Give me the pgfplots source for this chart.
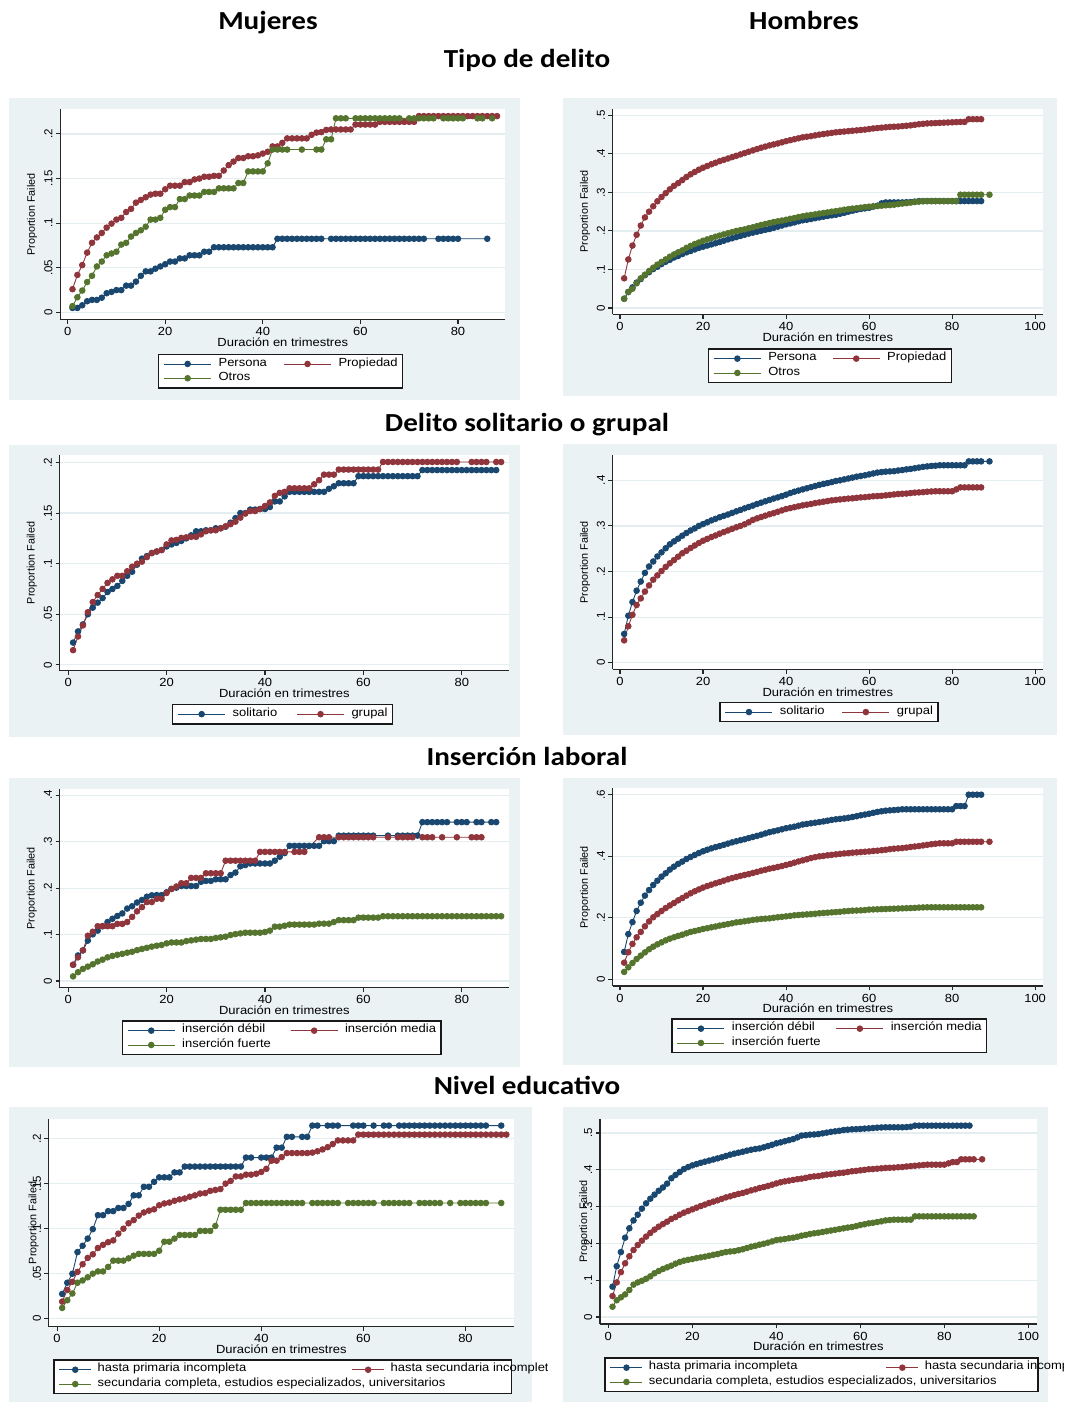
\documentclass[border=0pt]{standalone}
\usepackage{fontspec}
\setmainfont{Liberation Sans}[FakeStretch=1.1]
\newfontfamily\vfont{Liberation Sans}
\newfontfamily\tfont{Carlito}[FakeStretch=1.12]
\usepackage{pgfplots}
\pgfplotsset{compat=1.18}

\definecolor{snavy}{RGB}{26,71,111}
\definecolor{smaroon}{RGB}{144,53,59}
\definecolor{sgreen}{RGB}{85,117,47}
\definecolor{sbg}{RGB}{234,242,243}
\definecolor{sgrid}{RGB}{228,237,240}

\pgfplotsset{
  st/.style={
    scale only axis, anchor=south west, clip=false,
    axis x line=bottom, axis y line=left,
    axis line style={-, line width=1.1pt, draw=black!85},
    tick align=outside, major tick length=4.3pt,
    tick style={line width=1.1pt, black!85},
    ymajorgrids, grid style={sgrid, line width=1.2pt},
    axis background/.style={fill=white},
    xticklabel style={font=\fontsize{11.8}{12}\selectfont},
    yticklabel style={font=\vfont\fontsize{11.5}{12}\selectfont, rotate=90, anchor=south},
    xlabel={Duración en trimestres},
    ylabel={Proportion Failed},
    xlabel style={font=\fontsize{11.8}{12}\selectfont, at={(axis description cs:0.5,0)}, anchor=center, yshift=-22.5pt},
    ylabel style={font=\vfont\fontsize{10.8}{11}\selectfont, anchor=center},
    legend columns=2,
    legend cell align=left,
    legend style={anchor=north west, at={(axis description cs:0,0)}, draw=black!90, line width=1.4pt,
      fill=white, inner xsep=5pt, inner ysep=2.5pt, font=\fontsize{11.8}{12}\selectfont,
      nodes={inner sep=0pt, text height=9.3pt, text depth=5pt}, column sep=0pt, row sep=0pt},
    every axis plot/.append style={line width=0.9pt, mark=*, mark size=2.8pt},
  },
  legA/.style={legend image code/.code={
    \draw[mark repeat=2,mark phase=2,##1] plot coordinates {(0pt,0pt) (23.5pt,0pt) (47pt,0pt)};
    \path (54pt,0pt);}},
  legB/.style={legend image code/.code={
    \draw[mark repeat=2,mark phase=2,##1] plot coordinates {(0pt,0pt) (16pt,0pt) (32pt,0pt)};
    \path (38pt,0pt);}},
  leftx/.style={xmin=-1.6, xmax=89.6, xtick={0,20,40,60,80}, xticklabels={0,20,40,60,80}},
  rightx/.style={xmin=-1.76, xmax=101.9, xtick={0,20,40,60,80,100}, xticklabels={0,20,40,60,80,100}},
}

\begin{document}
\begin{tikzpicture}
\useasboundingbox (0,0) rectangle (1067pt,-1402pt);
\fill[white] (0,0) rectangle (1067pt,-1402pt);

% panel backgrounds
\fill[sbg] (9pt,-98pt) rectangle (520pt,-400pt);
\fill[sbg] (563pt,-98pt) rectangle (1057pt,-396pt);
\fill[sbg] (9pt,-445pt) rectangle (520pt,-737pt);
\fill[sbg] (563pt,-444pt) rectangle (1057pt,-735pt);
\fill[sbg] (9pt,-778pt) rectangle (520pt,-1067pt);
\fill[sbg] (563pt,-778pt) rectangle (1057pt,-1065pt);
\fill[sbg] (9pt,-1107pt) rectangle (532pt,-1402pt);
\fill[sbg] (563pt,-1107pt) rectangle (1048pt,-1402pt);

% titles
\begin{scope}[every node/.style={anchor=base, font=\tfont\bfseries\fontsize{26}{28}\selectfont}]
\node at (268pt,-30pt) {Mujeres};
\node at (804pt,-30pt) {Hombres};
\node at (527pt,-68pt) {Tipo de delito};
\node at (527pt,-431pt) {Delito solitario o grupal};
\node at (527pt,-765pt) {Inserción laboral};
\node at (527pt,-1094pt) {Nivel educativo};
\end{scope}

% ---------- Tipo de delito, mujeres
\begin{axis}[st, leftx, legA, at={(60.2pt,-319.9pt)}, width=445.1pt, height=210.6pt,
  xmin=-1.52, xmax=89.7, ymin=-0.0084, ymax=0.2276,
  ytick={0,.05,.1,.15,.2}, yticklabels={0,.05,.1,.15,.2},
  ylabel style={at={(axis description cs:-0.063,0.5)}},
  legend style={xshift=97.8pt, yshift=-33.7pt}]
\addplot[snavy] coordinates {(1,.005)(2,.005)(3,.008)(4,.0125)(5,.014)(6,.014)(7,.0165)(8,.0215)(9,.023)(10,.025)
(11,.025)(12,.03)(13,.03)(14,.0345)(15,.041)(16,.046)(17,.046)(18,.049)(19,.0515)(20,.054)
(21,.057)(22,.057)(23,.0605)(24,.0605)(25,.064)(26,.064)(27,.064)(28,.068)(29,.068)(30,.073)
(31,.073)(32,.073)(33,.073)(34,.073)(35,.073)(36,.073)(37,.073)(38,.073)(39,.073)(40,.073)
(41,.073)(42,.073)(43,.0825)(44,.0825)(45,.0825)(46,.0825)(47,.0825)(48,.0825)(49,.0825)(50,.0825)
(51,.0825)(52,.0825)(54,.0825)(55,.0825)(56,.0825)(57,.0825)(58,.0825)(59,.0825)(60,.0825)
(61,.0825)(62,.0825)(63,.0825)(64,.0825)(65,.0825)(66,.0825)(67,.0825)(68,.0825)(69,.0825)(70,.0825)
(71,.0825)(72,.0825)(73,.0825)(76,.0825)(77,.0825)(78,.0825)(79,.0825)(80,.0825)(86,.0825)};
\addlegendentry{\makebox[65pt][l]{Persona}}
\addplot[smaroon] coordinates {(1,.026)(2,.042)(3,.053)(4,.067)(5,.078)(6,.084)(7,.089)(8,.095)(9,.0995)(10,.104)
(11,.106)(12,.1125)(13,.116)(14,.123)(15,.126)(16,.129)(17,.132)(18,.133)(19,.133)(20,.138)
(21,.142)(22,.142)(23,.142)(24,.146)(25,.146)(26,.149)(27,.15)(28,.152)(29,.152)(30,.153)
(31,.153)(32,.159)(33,.165)(34,.169)(35,.173)(36,.173)(37,.175)(38,.175)(39,.176)(40,.178)
(41,.18)(42,.186)(43,.186)(44,.19)(45,.195)(46,.195)(47,.195)(48,.195)(49,.195)(50,.199)
(51,.2015)(52,.202)(53,.2045)(54,.205)(55,.205)(56,.205)(57,.205)(58,.205)(59,.2105)(60,.2105)
(61,.2105)(62,.2105)(63,.2105)(64,.2135)(65,.2135)(66,.2135)(67,.2135)(68,.2135)(69,.2135)(70,.2135)
(71,.2135)(72,.22)(73,.22)(74,.22)(75,.22)(76,.22)(77,.22)(78,.22)(79,.22)(80,.22)
(81,.22)(82,.22)(83,.22)(84,.22)(85,.22)(86,.22)(87,.22)(88,.22)};
\addlegendentry{Propiedad}
\addplot[sgreen] coordinates {(1,.007)(2,.017)(3,.0245)(4,.034)(5,.041)(6,.0515)(7,.057)(8,.064)(9,.066)(10,.068)
(11,.076)(12,.078)(13,.085)(14,.089)(15,.092)(16,.096)(17,.104)(18,.104)(19,.106)(20,.115)
(21,.118)(22,.118)(23,.127)(24,.127)(25,.131)(26,.131)(27,.131)(28,.135)(29,.135)(30,.135)
(31,.139)(32,.139)(33,.139)(34,.139)(35,.145)(36,.145)(37,.158)(38,.158)(39,.158)(40,.158)
(41,.167)(42,.1825)(43,.1825)(44,.1825)(45,.1825)(48,.1825)(51,.1825)(52,.1825)(53,.194)(54,.194)
(55,.2175)(56,.2175)(57,.2175)(59,.2175)(60,.2175)(61,.2175)(62,.2175)(63,.2175)(64,.2175)(65,.2175)
(66,.2175)(67,.2175)(68,.2175)(70,.2175)(71,.2175)(72,.2175)(73,.2175)(74,.2175)(75,.2175)(77,.2175)
(78,.2175)(79,.2175)(80,.2175)(81,.2175)(84,.2175)(85,.2175)(87,.2175)};
\addlegendentry{\makebox[65pt][l]{Otros}}
\end{axis}

% ---------- Tipo de delito, hombres
\begin{axis}[st, rightx, legA, at={(612.7pt,-314.3pt)}, width=430.3pt, height=205.3pt,
  ymin=-0.0164, ymax=0.5165,
  ytick={0,.1,.2,.3,.4,.5}, yticklabels={0,.1,.2,.3,.4,.5},
  ylabel style={at={(axis description cs:-0.064,0.5)}},
  legend style={xshift=95pt, yshift=-34pt}]
\addplot[snavy] coordinates {(1,.024)(2,.0415)(3,.0535)(4,.066)(5,.075)(6,.085)(7,.093)(8,.101)(9,.107)(10,.114)
(11,.12)(12,.125)(13,.131)(14,.135)(15,.14)(16,.1445)(17,.148)(18,.152)(19,.156)(20,.159)
(21,.162)(22,.165)(23,.168)(24,.171)(25,.1745)(26,.178)(27,.181)(28,.184)(29,.187)(30,.19)
(31,.193)(32,.1955)(33,.198)(34,.2005)(35,.203)(36,.205)(37,.208)(38,.211)(39,.214)(40,.217)
(41,.2195)(42,.222)(43,.225)(44,.2275)(45,.229)(46,.231)(47,.233)(48,.235)(49,.237)(50,.239)
(51,.2405)(52,.242)(53,.2445)(54,.247)(55,.25)(56,.2525)(57,.255)(58,.257)(59,.2585)(60,.26)
(61,.263)(62,.2655)(63,.2715)(64,.274)(65,.274)(66,.274)(67,.274)(68,.274)(69,.2745)(70,.275)
(71,.276)(72,.2775)(73,.2775)(74,.2775)(75,.2775)(76,.2775)(77,.2775)(78,.2775)(79,.2775)(80,.2775)
(81,.2775)(82,.2775)(83,.2775)(84,.2775)(85,.2775)(86,.2775)(87,.2775)};
\addlegendentry{\makebox[64pt][l]{Persona}}
\addplot[smaroon] coordinates {(1,.077)(2,.126)(3,.162)(4,.19)(5,.214)(6,.235)(7,.25)(8,.264)(9,.277)(10,.288)
(11,.298)(12,.308)(13,.317)(14,.324)(15,.332)(16,.34)(17,.347)(18,.353)(19,.359)(20,.364)
(21,.3685)(22,.373)(23,.377)(24,.381)(25,.3845)(26,.388)(27,.3915)(28,.395)(29,.3985)(30,.402)
(31,.4055)(32,.409)(33,.4125)(34,.416)(35,.419)(36,.422)(37,.4245)(38,.427)(39,.43)(40,.433)
(41,.4355)(42,.438)(43,.4405)(44,.443)(45,.4445)(46,.446)(47,.448)(48,.45)(49,.4515)(50,.453)
(51,.4545)(52,.456)(53,.457)(54,.458)(55,.459)(56,.46)(57,.461)(58,.462)(59,.463)(60,.4645)
(61,.466)(62,.467)(63,.468)(64,.469)(65,.47)(66,.4705)(67,.471)(68,.472)(69,.473)(70,.474)
(71,.4755)(72,.477)(73,.478)(74,.479)(75,.4795)(76,.48)(77,.4805)(78,.481)(79,.4815)(80,.482)
(81,.4825)(82,.483)(83,.483)(84,.49)(85,.49)(86,.49)(87,.49)};
\addlegendentry{Propiedad}
\addplot[sgreen] coordinates {(1,.024)(2,.0415)(3,.05)(4,.064)(5,.077)(6,.0865)(7,.096)(8,.1045)(9,.1125)(10,.1195)
(11,.126)(12,.133)(13,.139)(14,.1445)(15,.1495)(16,.156)(17,.161)(18,.166)(19,.17)(20,.1745)
(21,.178)(22,.1815)(23,.185)(24,.188)(25,.191)(26,.194)(27,.197)(28,.2)(29,.202)(30,.204)
(31,.207)(32,.2095)(33,.2125)(34,.2155)(35,.218)(36,.2205)(37,.223)(38,.225)(39,.227)(40,.229)
(41,.2315)(42,.2335)(43,.236)(44,.238)(45,.24)(46,.2415)(47,.243)(48,.245)(49,.2465)(50,.248)
(51,.25)(52,.2515)(53,.253)(54,.255)(55,.2565)(56,.258)(57,.259)(58,.2605)(59,.262)(60,.263)
(61,.264)(62,.2645)(63,.2655)(64,.2665)(65,.267)(66,.268)(67,.2695)(68,.271)(69,.272)(70,.2735)
(71,.275)(72,.276)(73,.277)(74,.2775)(75,.2775)(76,.2775)(77,.2775)(78,.2775)(79,.2775)(80,.2775)
(81,.2775)(82,.294)(83,.294)(84,.294)(85,.294)(86,.294)(87,.294)(89,.294)};
\addlegendentry{\makebox[64pt][l]{Otros}}
\end{axis}

% ---------- Delito solitario o grupal, mujeres
\begin{axis}[st, leftx, legA, at={(59.8pt,-670.8pt)}, width=449.2pt, height=215.8pt,
  xmin=-1.7, xmax=89.6, ymin=-0.0059, ymax=0.2074,
  ytick={0,.05,.1,.15,.2}, yticklabels={0,.05,.1,.15,.2},
  ylabel style={at={(axis description cs:-0.062,0.5)}},
  legend style={xshift=112.2pt, yshift=-33pt}]
\addplot[snavy] coordinates {(1,.022)(2,.033)(3,.04)(4,.05)(5,.0565)(6,.0615)(7,.066)(8,.072)(9,.075)(10,.078)
(11,.083)(12,.088)(13,.092)(14,.099)(15,.105)(16,.1075)(17,.1105)(18,.112)(19,.1135)(20,.117)
(21,.119)(22,.1205)(23,.1225)(24,.125)(25,.128)(26,.132)(27,.132)(28,.133)(29,.133)(30,.135)
(31,.135)(32,.1365)(33,.1405)(34,.145)(35,.15)(36,.15)(37,.1535)(38,.1535)(39,.154)(40,.154)
(41,.156)(42,.1615)(43,.1615)(44,.1665)(45,.171)(46,.171)(47,.171)(48,.171)(49,.171)(50,.171)
(51,.171)(52,.171)(53,.174)(54,.1765)(55,.1795)(56,.1795)(57,.1795)(58,.1795)(59,.1865)(60,.1865)
(61,.1865)(62,.1865)(63,.1865)(64,.1865)(65,.1865)(66,.1865)(67,.1865)(68,.1865)(69,.1865)(70,.1865)
(71,.1865)(72,.1925)(73,.1925)(74,.1925)(75,.1925)(76,.1925)(77,.1925)(78,.1925)(79,.1925)(80,.1925)
(81,.1925)(82,.1925)(83,.1925)(84,.1925)(85,.1925)(86,.1925)(87,.1925)};
\addlegendentry{\makebox[64pt][l]{solitario}}
\addplot[smaroon] coordinates {(1,.0145)(2,.028)(3,.039)(4,.052)(5,.062)(6,.069)(7,.075)(8,.081)(9,.0845)(10,.088)
(11,.088)(12,.0925)(13,.097)(14,.1)(15,.102)(16,.1065)(17,.1105)(18,.112)(19,.1135)(20,.119)
(21,.123)(22,.1235)(23,.1255)(24,.126)(25,.1265)(26,.1265)(27,.129)(28,.132)(29,.133)(30,.133)
(31,.135)(32,.137)(33,.139)(34,.1415)(35,.1455)(36,.1495)(37,.152)(38,.152)(39,.154)(40,.157)
(41,.1605)(42,.167)(43,.17)(44,.171)(45,.1745)(46,.1745)(47,.1745)(48,.1745)(49,.1745)(50,.1785)
(51,.1825)(52,.188)(53,.188)(54,.188)(55,.193)(56,.193)(57,.193)(58,.193)(59,.193)(60,.193)
(61,.193)(62,.193)(63,.193)(64,.2005)(65,.2005)(66,.2005)(67,.2005)(68,.2005)(69,.2005)(70,.2005)
(71,.2005)(72,.2005)(73,.2005)(74,.2005)(75,.2005)(76,.2005)(77,.2005)(78,.2005)(79,.2005)(82,.2005)
(83,.2005)(84,.2005)(85,.2005)(87,.2005)(88,.2005)};
\addlegendentry{grupal}
\end{axis}

% ---------- Delito solitario o grupal, hombres
\begin{axis}[st, rightx, legA, at={(612.7pt,-669.3pt)}, width=430.3pt, height=214.3pt,
  ymin=-0.0145, ymax=0.4555,
  ytick={0,.1,.2,.3,.4}, yticklabels={0,.1,.2,.3,.4},
  ylabel style={at={(axis description cs:-0.064,0.5)}},
  legend style={xshift=106.6pt, yshift=-32.4pt}]
\addplot[snavy] coordinates {(1,.063)(2,.103)(3,.133)(4,.158)(5,.178)(6,.197)(7,.211)(8,.222)(9,.233)(10,.242)
(11,.251)(12,.2595)(13,.266)(14,.272)(15,.2785)(16,.2845)(17,.29)(18,.2945)(19,.3)(20,.304)
(21,.308)(22,.312)(23,.3155)(24,.319)(25,.322)(26,.325)(27,.3285)(28,.332)(29,.335)(30,.3385)
(31,.3415)(32,.3445)(33,.348)(34,.351)(35,.354)(36,.357)(37,.36)(38,.3625)(39,.3655)(40,.3685)
(41,.372)(42,.375)(43,.3775)(44,.38)(45,.3825)(46,.385)(47,.3875)(48,.39)(49,.392)(50,.394)
(51,.396)(52,.3985)(53,.4)(54,.402)(55,.404)(56,.406)(57,.408)(58,.4095)(59,.411)(60,.413)
(61,.415)(62,.417)(63,.418)(64,.419)(65,.4195)(66,.42)(67,.4215)(68,.4225)(69,.424)(70,.425)
(71,.4265)(72,.428)(73,.4295)(74,.4305)(75,.4315)(76,.432)(77,.433)(78,.433)(79,.433)(80,.433)
(81,.433)(82,.433)(83,.433)(84,.4415)(85,.4415)(86,.4415)(87,.4415)(89,.4415)};
\addlegendentry{\makebox[62pt][l]{solitario}}
\addplot[smaroon] coordinates {(1,.049)(2,.08)(3,.105)(4,.1265)(5,.141)(6,.156)(7,.1695)(8,.182)(9,.1915)(10,.201)
(11,.21)(12,.218)(13,.225)(14,.2325)(15,.24)(16,.2455)(17,.2515)(18,.257)(19,.2625)(20,.2675)
(21,.2715)(22,.2755)(23,.279)(24,.283)(25,.2865)(26,.29)(27,.2935)(28,.297)(29,.3)(30,.3035)
(31,.308)(32,.313)(33,.3165)(34,.3195)(35,.3225)(36,.3255)(37,.328)(38,.331)(39,.334)(40,.337)
(41,.339)(42,.341)(43,.343)(44,.345)(45,.3465)(46,.348)(47,.35)(48,.3515)(49,.353)(50,.3545)
(51,.356)(52,.357)(53,.358)(54,.359)(55,.36)(56,.3605)(57,.3615)(58,.3625)(59,.363)(60,.364)
(61,.365)(62,.3655)(63,.366)(64,.367)(65,.368)(66,.369)(67,.37)(68,.3705)(69,.371)(70,.372)
(71,.373)(72,.3735)(73,.374)(74,.375)(75,.3755)(76,.376)(77,.376)(78,.376)(79,.376)(80,.376)
(81,.38)(82,.3845)(83,.3845)(84,.3845)(85,.3845)(86,.3845)(87,.3845)};
\addlegendentry{grupal}
\end{axis}

% ---------- Insercion laboral, mujeres
\begin{axis}[st, leftx, legA, at={(59.8pt,-987.7pt)}, width=449.2pt, height=199.2pt,
  xmin=-1.7, xmax=89.6, ymin=-0.0144, ymax=0.4144,
  ytick={0,.1,.2,.3,.4}, yticklabels={0,.1,.2,.3,.4},
  ylabel style={at={(axis description cs:-0.062,0.5)}},
  legend style={xshift=61.8pt, yshift=-32.6pt}]
\addplot[snavy] coordinates {(1,.035)(2,.055)(3,.066)(4,.087)(5,.1005)(6,.1085)(7,.118)(8,.127)(9,.134)(10,.14)
(11,.1455)(12,.156)(13,.161)(14,.169)(15,.1745)(16,.1815)(17,.1845)(18,.185)(19,.185)(20,.191)
(21,.1985)(22,.201)(23,.2045)(24,.2045)(25,.2045)(26,.2045)(27,.2135)(28,.2155)(29,.2155)(30,.219)
(31,.219)(32,.219)(33,.228)(34,.2335)(35,.247)(36,.2495)(37,.253)(38,.253)(39,.253)(40,.253)
(41,.253)(42,.259)(43,.2675)(44,.2755)(45,.291)(46,.291)(47,.291)(48,.291)(49,.291)(50,.291)
(51,.291)(52,.301)(53,.301)(54,.301)(55,.313)(56,.313)(57,.313)(58,.313)(59,.313)(60,.313)
(61,.313)(62,.313)(65,.313)(67,.313)(68,.313)(69,.313)(70,.313)(71,.313)(72,.342)(73,.342)
(74,.342)(75,.342)(76,.342)(77,.342)(79,.342)(80,.342)(81,.342)(83,.342)(84,.342)(86,.342)(87,.342)};
\addlegendentry{\makebox[108pt][l]{inserción débil}}
\addplot[smaroon] coordinates {(1,.035)(2,.051)(3,.066)(4,.0975)(5,.106)(6,.118)(7,.118)(8,.118)(9,.118)(10,.123)
(11,.123)(12,.127)(13,.138)(14,.15)(15,.159)(16,.17)(17,.17)(18,.177)(19,.177)(20,.1895)
(21,.198)(22,.2035)(23,.2105)(24,.2105)(25,.222)(26,.222)(27,.222)(28,.232)(29,.232)(30,.232)
(31,.232)(32,.259)(33,.259)(34,.259)(35,.259)(36,.259)(37,.259)(38,.259)(39,.278)(40,.278)
(41,.278)(42,.278)(43,.278)(44,.278)(46,.278)(47,.278)(48,.278)(51,.3095)(52,.3095)(53,.3095)
(55,.3095)(56,.3095)(57,.3095)(58,.3095)(59,.3095)(60,.3095)(61,.3095)(62,.3095)(65,.3095)(67,.3095)
(68,.3095)(69,.3095)(70,.3095)(72,.3095)(73,.3095)(74,.3095)(76,.3095)(79,.3095)(82,.3095)(83,.3095)(84,.3095)};
\addlegendentry{inserción media}
\addplot[sgreen] coordinates {(1,.01)(2,.019)(3,.026)(4,.031)(5,.036)(6,.042)(7,.046)(8,.051)(9,.054)(10,.0565)
(11,.0585)(12,.061)(13,.063)(14,.0665)(15,.069)(16,.0715)(17,.074)(18,.076)(19,.0775)(20,.081)
(21,.083)(22,.083)(23,.083)(24,.086)(25,.0875)(26,.089)(27,.0905)(28,.0905)(29,.0905)(30,.0925)
(31,.094)(32,.0955)(33,.099)(34,.101)(35,.1025)(36,.104)(37,.104)(38,.104)(39,.104)(40,.1055)
(41,.1085)(42,.117)(43,.117)(44,.119)(45,.1215)(46,.1215)(47,.1215)(48,.1215)(49,.1215)(50,.1215)
(51,.1235)(52,.1235)(53,.1235)(54,.127)(55,.131)(56,.131)(57,.131)(58,.131)(59,.1365)(60,.1365)
(61,.1365)(62,.1365)(63,.1365)(64,.1395)(65,.1395)(66,.1395)(67,.1395)(68,.1395)(69,.1395)(70,.1395)
(71,.1395)(72,.1395)(73,.1395)(74,.1395)(75,.1395)(76,.1395)(77,.1395)(78,.1395)(79,.1395)(80,.1395)
(81,.1395)(82,.1395)(83,.1395)(84,.1395)(85,.1395)(86,.1395)(87,.1395)(88,.1395)};
\addlegendentry{\makebox[108pt][l]{inserción fuerte}}
\end{axis}

% ---------- Insercion laboral, hombres
\begin{axis}[st, rightx, legA, at={(612.7pt,-986pt)}, width=430.3pt, height=197.7pt,
  ymin=-0.0218, ymax=0.6207,
  ytick={0,.2,.4,.6}, yticklabels={0,.2,.4,.6},
  ylabel style={at={(axis description cs:-0.064,0.5)}},
  legend style={xshift=58.6pt, yshift=-32.3pt}]
\addplot[snavy] coordinates {(1,.089)(2,.147)(3,.186)(4,.222)(5,.249)(6,.272)(7,.29)(8,.3065)(9,.3205)(10,.3335)
(11,.3445)(12,.3565)(13,.366)(14,.375)(15,.3825)(16,.391)(17,.3975)(18,.404)(19,.4105)(20,.416)
(21,.421)(22,.4255)(23,.4295)(24,.433)(25,.437)(26,.441)(27,.445)(28,.4485)(29,.452)(30,.455)
(31,.459)(32,.4625)(33,.466)(34,.47)(35,.474)(36,.478)(37,.481)(38,.484)(39,.4875)(40,.491)
(41,.4935)(42,.496)(43,.4995)(44,.503)(45,.505)(46,.507)(47,.509)(48,.511)(49,.513)(50,.5155)
(51,.518)(52,.52)(53,.5215)(54,.523)(55,.525)(56,.5275)(57,.53)(58,.533)(59,.5355)(60,.538)
(61,.541)(62,.544)(63,.546)(64,.548)(65,.549)(66,.55)(67,.551)(68,.5525)(69,.5525)(70,.5525)
(71,.5525)(72,.5525)(73,.5525)(74,.5525)(75,.5525)(76,.5525)(77,.5525)(78,.5525)(79,.5525)(80,.5525)
(81,.563)(82,.563)(83,.563)(84,.6)(85,.6)(86,.6)(87,.6)};
\addlegendentry{\makebox[104pt][l]{inserción débil}}
\addplot[smaroon] coordinates {(1,.054)(2,.088)(3,.115)(4,.1365)(5,.154)(6,.172)(7,.188)(8,.2015)(9,.212)(10,.222)
(11,.2315)(12,.24)(13,.248)(14,.2565)(15,.264)(16,.272)(17,.2795)(18,.286)(19,.292)(20,.298)
(21,.303)(22,.3075)(23,.312)(24,.316)(25,.3205)(26,.325)(27,.329)(28,.3325)(29,.336)(30,.339)
(31,.342)(32,.3455)(33,.349)(34,.353)(35,.356)(36,.3595)(37,.362)(38,.365)(39,.368)(40,.3715)
(41,.375)(42,.379)(43,.383)(44,.3865)(45,.39)(46,.394)(47,.397)(48,.3995)(49,.401)(50,.403)
(51,.4045)(52,.406)(53,.4075)(54,.409)(55,.41)(56,.4115)(57,.4125)(58,.4135)(59,.4145)(60,.4155)
(61,.417)(62,.418)(63,.4195)(64,.421)(65,.423)(66,.4245)(67,.4255)(68,.4265)(69,.428)(70,.43)
(71,.4315)(72,.433)(73,.435)(74,.437)(75,.439)(76,.4405)(77,.442)(78,.442)(79,.442)(80,.442)
(81,.447)(82,.447)(83,.447)(84,.447)(85,.447)(86,.447)(87,.447)(89,.447)};
\addlegendentry{inserción media}
\addplot[sgreen] coordinates {(1,.024)(2,.039)(3,.053)(4,.066)(5,.077)(6,.0875)(7,.0975)(8,.106)(9,.1135)(10,.12)
(11,.1265)(12,.132)(13,.1365)(14,.141)(15,.145)(16,.1495)(17,.154)(18,.157)(19,.16)(20,.1635)
(21,.166)(22,.169)(23,.1715)(24,.1745)(25,.177)(26,.1795)(27,.182)(28,.185)(29,.1865)(30,.1885)
(31,.1905)(32,.193)(33,.1945)(34,.196)(35,.197)(36,.198)(37,.2)(38,.2015)(39,.203)(40,.2045)
(41,.206)(42,.208)(43,.209)(44,.21)(45,.211)(46,.212)(47,.213)(48,.2145)(49,.2155)(50,.2165)
(51,.2175)(52,.2185)(53,.2195)(54,.221)(55,.222)(56,.223)(57,.2235)(58,.224)(59,.225)(60,.2265)
(61,.227)(62,.2275)(63,.228)(64,.2285)(65,.229)(66,.2295)(67,.23)(68,.2305)(69,.231)(70,.2315)
(71,.232)(72,.233)(73,.2335)(74,.234)(75,.234)(76,.234)(77,.234)(78,.234)(79,.234)(80,.234)
(81,.234)(82,.234)(83,.234)(84,.234)(85,.234)(86,.234)(87,.234)};
\addlegendentry{\makebox[104pt][l]{inserción fuerte}}
\end{axis}

% ---------- Nivel educativo, mujeres
\begin{scope}
\clip (0pt,-1100pt) rectangle (547pt,-1402pt);
\begin{axis}[st, leftx, legB, at={(48.7pt,-1326.8pt)}, width=465.3pt, height=207.8pt,
  xmin=-1.64, xmax=89.5, ymin=-0.009, ymax=0.2218,
  ytick={0,.05,.1,.15,.2}, yticklabels={0,.05,.1,.15,.2},
  ylabel style={at={(axis description cs:-0.0325,0.5)}},
  legend style={xshift=4.4pt, yshift=-32.6pt}]
\addplot[snavy] coordinates {(1,.0275)(2,.04)(3,.05)(4,.074)(5,.081)(6,.089)(7,.0995)(8,.115)(9,.115)(10,.1195)
(11,.1195)(12,.123)(13,.123)(14,.1275)(15,.137)(16,.137)(17,.1465)(18,.1465)(19,.152)(20,.157)
(21,.157)(22,.157)(23,.1625)(24,.1625)(25,.169)(26,.169)(27,.169)(28,.169)(29,.169)(30,.169)
(31,.169)(32,.169)(33,.169)(34,.169)(35,.169)(36,.169)(37,.179)(38,.179)(40,.179)(41,.179)
(42,.179)(43,.19)(44,.19)(45,.202)(46,.202)(48,.202)(49,.202)(50,.2145)(51,.2145)(53,.2145)
(54,.2145)(55,.2145)(58,.2145)(59,.2145)(60,.2145)(62,.2145)(64,.2145)(65,.2145)(67,.2145)(68,.2145)
(69,.2145)(70,.2145)(71,.2145)(72,.2145)(73,.2145)(74,.2145)(75,.2145)(76,.2145)(77,.2145)(78,.2145)
(79,.2145)(80,.2145)(81,.2145)(82,.2145)(83,.2145)(84,.2145)(87,.2145)};
\addlegendentry{\makebox[254pt][l]{hasta primaria incompleta}}
\addplot[smaroon] coordinates {(1,.019)(2,.032)(3,.041)(4,.052)(5,.0605)(6,.0675)(7,.0715)(8,.0785)(9,.082)(10,.085)
(11,.087)(12,.0945)(13,.1)(14,.106)(15,.1095)(16,.1145)(17,.118)(18,.12)(19,.1215)(20,.126)
(21,.128)(22,.129)(23,.131)(24,.1325)(25,.1335)(26,.1355)(27,.137)(28,.139)(29,.1395)(30,.142)
(31,.143)(32,.144)(33,.15)(34,.153)(35,.158)(36,.158)(37,.16)(38,.16)(39,.161)(40,.163)
(41,.1665)(42,.1755)(43,.1755)(44,.1795)(45,.184)(46,.184)(47,.184)(48,.184)(49,.184)(50,.1845)
(51,.186)(52,.188)(53,.1905)(54,.194)(55,.198)(56,.198)(57,.198)(58,.198)(59,.2045)(60,.2045)
(61,.2045)(62,.2045)(63,.2045)(64,.2045)(65,.2045)(66,.2045)(67,.2045)(68,.2045)(69,.2045)(70,.2045)
(71,.2045)(72,.2045)(73,.2045)(74,.2045)(75,.2045)(76,.2045)(77,.2045)(78,.2045)(79,.2045)(80,.2045)
(81,.2045)(82,.2045)(83,.2045)(84,.2045)(85,.2045)(86,.2045)(87,.2045)(88,.2045)};
\addlegendentry{\makebox[116pt][l]{hasta secundaria incompleta}}
\addplot[sgreen] coordinates {(1,.012)(2,.0205)(3,.028)(4,.04)(5,.0425)(6,.046)(7,.05)(8,.0525)(9,.0525)(10,.0575)
(11,.0645)(12,.0645)(13,.0645)(14,.067)(15,.07)(16,.072)(17,.072)(18,.072)(19,.072)(20,.0755)
(21,.0855)(22,.0855)(23,.089)(24,.093)(25,.093)(26,.093)(27,.093)(28,.0975)(29,.0975)(30,.0975)
(31,.103)(32,.121)(33,.121)(34,.121)(35,.121)(36,.121)(37,.1285)(38,.1285)(39,.1285)(40,.1285)
(41,.1285)(42,.1285)(43,.1285)(44,.1285)(45,.1285)(46,.1285)(47,.1285)(48,.1285)(50,.1285)(51,.1285)
(52,.1285)(53,.1285)(54,.1285)(55,.1285)(57,.1285)(58,.1285)(59,.1285)(60,.1285)(61,.1285)(62,.1285)
(64,.1285)(65,.1285)(66,.1285)(67,.1285)(68,.1285)(69,.1285)(71,.1285)(72,.1285)(73,.1285)(74,.1285)
(75,.1285)(77,.1285)(79,.1285)(80,.1285)(81,.1285)(82,.1285)(83,.1285)(84,.1285)(87,.1285)};
\addlegendentry{\makebox[254pt][l]{secundaria completa, estudios especializados, universitarios}}
\end{axis}
\end{scope}

% ---------- Nivel educativo, hombres
\begin{scope}
\clip (555pt,-1100pt) rectangle (1063pt,-1402pt);
\begin{axis}[st, legB, at={(600pt,-1324pt)}, width=436.7pt, height=205pt,
  xmin=-1.98, xmax=102, xtick={0,20,40,60,80,100}, xticklabels={0,20,40,60,80,100},
  ymin=-0.019, ymax=0.538,
  ytick={0,.1,.2,.3,.4,.5}, yticklabels={0,.1,.2,.3,.4,.5},
  ylabel style={at={(axis description cs:-0.036,0.5)}},
  legend style={xshift=4.3pt, yshift=-33.3pt}]
\addplot[snavy] coordinates {(1,.0825)(2,.138)(3,.1765)(4,.2155)(5,.241)(6,.2625)(7,.278)(8,.2945)(9,.309)(10,.3215)
(11,.3325)(12,.343)(13,.352)(14,.3625)(15,.377)(16,.386)(17,.394)(18,.402)(19,.4075)(20,.412)
(21,.4155)(22,.419)(23,.422)(24,.425)(25,.428)(26,.431)(27,.434)(28,.4375)(29,.441)(30,.444)
(31,.4465)(32,.449)(33,.452)(34,.4545)(35,.4565)(36,.458)(37,.461)(38,.4645)(39,.468)(40,.472)
(41,.4745)(42,.4775)(43,.4805)(44,.4835)(45,.488)(46,.493)(47,.494)(48,.4955)(49,.496)(50,.497)
(51,.499)(52,.501)(53,.503)(54,.5045)(55,.506)(56,.508)(57,.509)(58,.51)(59,.5105)(60,.511)
(61,.512)(62,.5125)(63,.5135)(64,.5145)(65,.515)(66,.5155)(67,.5155)(68,.5155)(69,.5155)(70,.5155)
(71,.516)(72,.517)(73,.52)(74,.52)(75,.52)(76,.52)(77,.52)(78,.52)(79,.52)(80,.52)
(81,.52)(82,.52)(83,.52)(84,.52)(85,.52)(86,.52)};
\addlegendentry{\makebox[237pt][l]{hasta primaria incompleta}}
\addplot[smaroon] coordinates {(1,.057)(2,.094)(3,.122)(4,.146)(5,.165)(6,.182)(7,.1955)(8,.2075)(9,.2185)(10,.2285)
(11,.2375)(12,.2455)(13,.2525)(14,.259)(15,.2665)(16,.2715)(17,.278)(18,.2835)(19,.288)(20,.2925)
(21,.297)(22,.3015)(23,.3055)(24,.31)(25,.3135)(26,.317)(27,.321)(28,.325)(29,.328)(30,.3315)
(31,.3345)(32,.337)(33,.3405)(34,.344)(35,.347)(36,.3505)(37,.353)(38,.356)(39,.3595)(40,.363)
(41,.366)(42,.3685)(43,.3705)(44,.3725)(45,.3745)(46,.376)(47,.378)(48,.3805)(49,.382)(50,.383)
(51,.385)(52,.387)(53,.388)(54,.3895)(55,.391)(56,.392)(57,.394)(58,.396)(59,.397)(60,.3985)
(61,.4)(62,.4015)(63,.402)(64,.403)(65,.404)(66,.405)(67,.4055)(68,.406)(69,.407)(70,.4075)
(71,.409)(72,.41)(73,.411)(74,.412)(75,.413)(76,.414)(77,.414)(78,.414)(79,.414)(80,.414)
(81,.4175)(82,.421)(83,.421)(84,.4285)(85,.4285)(86,.4285)(87,.4285)(89,.4285)};
\addlegendentry{\makebox[108pt][l]{hasta secundaria incompleta}}
\addplot[sgreen] coordinates {(1,.028)(2,.0455)(3,.0535)(4,.0615)(5,.0735)(6,.088)(7,.094)(8,.0985)(9,.104)(10,.1105)
(11,.119)(12,.125)(13,.1305)(14,.135)(15,.1395)(16,.145)(17,.1495)(18,.153)(19,.1555)(20,.1575)
(21,.16)(22,.162)(23,.164)(24,.1665)(25,.169)(26,.171)(27,.174)(28,.1765)(29,.178)(30,.179)
(31,.1815)(32,.184)(33,.1875)(34,.191)(35,.1935)(36,.1965)(37,.199)(38,.202)(39,.2055)(40,.209)
(41,.2105)(42,.212)(43,.214)(44,.2155)(45,.218)(46,.221)(47,.223)(48,.2255)(49,.2275)(50,.229)
(51,.231)(52,.233)(53,.235)(54,.237)(55,.239)(56,.241)(57,.243)(58,.2445)(59,.247)(60,.25)
(61,.252)(62,.2545)(63,.256)(64,.258)(65,.26)(66,.2625)(67,.2635)(68,.2645)(69,.2645)(70,.2645)
(71,.2645)(72,.2645)(73,.2735)(74,.2735)(75,.2735)(76,.2735)(77,.2735)(78,.2735)(79,.2735)(80,.2735)
(81,.2735)(82,.2735)(83,.2735)(84,.2735)(85,.2735)(86,.2735)(87,.2735)};
\addlegendentry{\makebox[237pt][l]{secundaria completa, estudios especializados, universitarios}}
\end{axis}
\end{scope}

\end{tikzpicture}
\end{document}
